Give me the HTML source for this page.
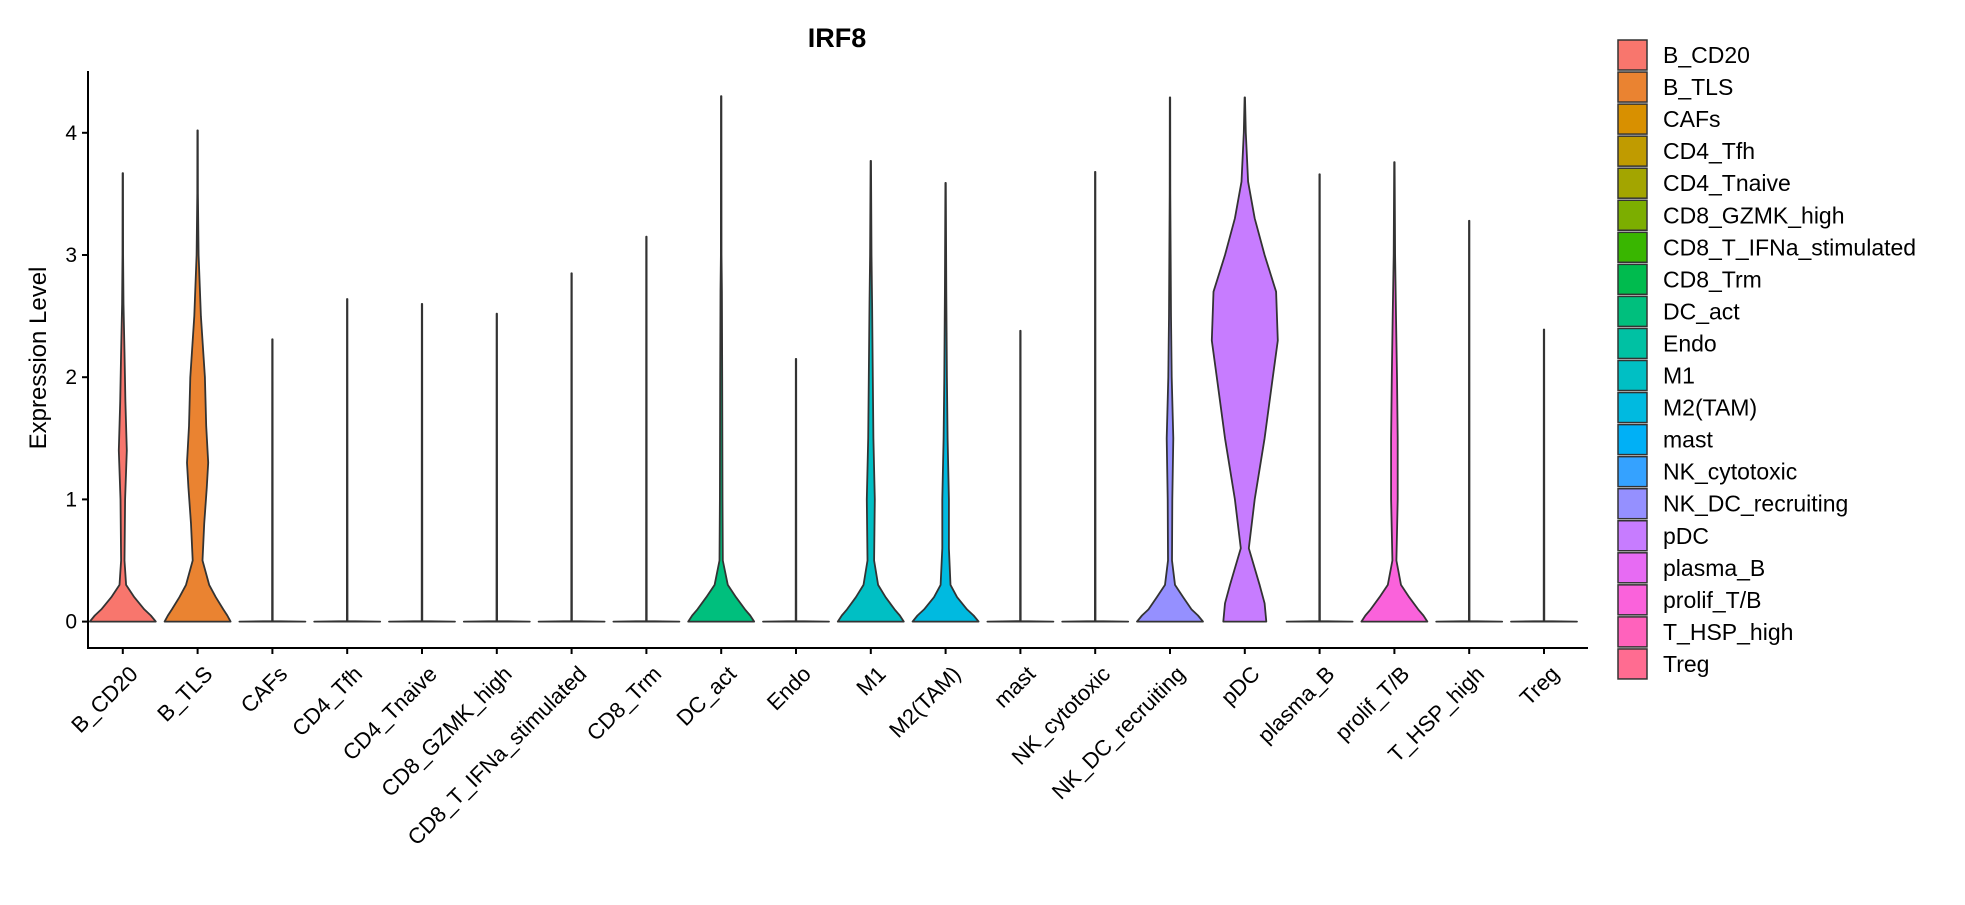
<!DOCTYPE html>
<html><head><meta charset="utf-8"><style>
html,body{margin:0;padding:0;background:#fff;}
svg text{font-family:"Liberation Sans",sans-serif;fill:#000;}
</style></head><body>
<svg id="chart" width="1965" height="900" xmlns="http://www.w3.org/2000/svg">
<text x="837" y="47" text-anchor="middle" font-size="27" font-weight="bold">IRF8</text>
<text transform="translate(46,358) rotate(-90)" text-anchor="middle" font-size="24">Expression Level</text>
<g id="plot"></g>
<g id="legend"></g>
</svg>
<script>
const categories=["B_CD20","B_TLS","CAFs","CD4_Tfh","CD4_Tnaive","CD8_GZMK_high","CD8_T_IFNa_stimulated","CD8_Trm","DC_act","Endo","M1","M2(TAM)","mast","NK_cytotoxic","NK_DC_recruiting","pDC","plasma_B","prolif_T/B","T_HSP_high","Treg"];
const colors=["#F8766D","#EA8331","#D89000","#C09B00","#A3A500","#7CAE00","#39B600","#00BB4E","#00BF7D","#00C1A3","#00BFC4","#00BAE0","#00B0F6","#35A2FF","#9590FF","#C77CFF","#E76BF3","#FA62DB","#FF62BC","#FF6C91"];
const maxValues=[3.67,4.02,2.31,2.64,2.6,2.52,2.85,3.15,4.3,2.15,3.77,3.59,2.38,3.68,4.29,4.29,3.66,3.76,3.28,2.39];
// density profiles: [expression, relative half-width]
const profileB_CD20=[[0,1],[0.05,0.85],[0.1,0.65],[0.2,0.35],[0.3,0.1],[0.5,0.05],[1,0.07],[1.4,0.12],[1.8,0.08],[2.2,0.05],[2.6,0.02],[3,0.01]];
const profileB_TLS=[[0,1],[0.05,0.9],[0.1,0.78],[0.2,0.55],[0.3,0.35],[0.5,0.15],[0.8,0.2],[1.1,0.28],[1.3,0.32],[1.6,0.26],[2,0.22],[2.5,0.1],[3,0.03],[3.5,0.01]];
const profileDC_act=[[0,1],[0.05,0.88],[0.1,0.72],[0.2,0.45],[0.3,0.2],[0.5,0.05],[1,0.04],[2,0.03],[2.7,0.02],[3,0.01]];
const profileM1=[[0,1],[0.05,0.88],[0.1,0.72],[0.2,0.45],[0.3,0.22],[0.5,0.1],[1,0.12],[1.5,0.08],[2,0.06],[2.6,0.04],[3,0.02]];
const profileM2=[[0,1],[0.05,0.85],[0.1,0.65],[0.2,0.35],[0.3,0.15],[0.6,0.1],[1,0.1],[1.5,0.06],[2,0.04],[2.7,0.02]];
const profileNKDC=[[0,1],[0.05,0.85],[0.1,0.65],[0.2,0.4],[0.3,0.15],[0.5,0.06],[1,0.07],[1.5,0.1],[2,0.05],[2.5,0.03],[3.5,0.01]];
const profilePDC=[[0,0.65],[0.15,0.6],[0.3,0.45],[0.6,0.12],[1,0.3],[1.5,0.6],[2,0.85],[2.3,1],[2.7,0.95],[3,0.6],[3.3,0.3],[3.6,0.1],[4,0.03]];
const profileProlif=[[0,1],[0.05,0.88],[0.1,0.72],[0.2,0.45],[0.3,0.2],[0.5,0.06],[1,0.1],[1.5,0.1],[2,0.08],[2.5,0.05],[3,0.02]];
const profileFlat=[[0,1],[0.004,0.01]];
const profiles={B_CD20:profileB_CD20,B_TLS:profileB_TLS,DC_act:profileDC_act,M1:profileM1,"M2(TAM)":profileM2,NK_DC_recruiting:profileNKDC,pDC:profilePDC,"prolif_T/B":profileProlif};
const yTicks=[0,1,2,3,4];

const NS="http://www.w3.org/2000/svg";
const plot=document.getElementById('plot');
const X0=122.8, DX=74.8, HALF=33;
const xPos=i=>X0+i*DX;
const yPos=v=>621.6-v*122.2;
function mk(tag,attrs,parent){const e=document.createElementNS(NS,tag);for(const k in attrs)e.setAttribute(k,attrs[k]);parent.appendChild(e);return e;}

const ya=mk('line',{x1:88,y1:71,x2:88,y2:649,stroke:'#000','stroke-width':2},plot);


const xa=mk('line',{x1:87,y1:648,x2:1588,y2:648,stroke:'#000','stroke-width':2},plot);


yTicks.forEach(t=>{
  const y=yPos(t);
  mk('line',{x1:82,y1:y,x2:88,y2:y,stroke:'#000','stroke-width':2},plot);
  const tx=mk('text',{x:77,y:y+7,'text-anchor':'end','font-size':21},plot);
  tx.textContent=t;
  
  
});
categories.forEach((c,i)=>{
  const cx=xPos(i);
  let prof=(profiles[c]||profileFlat).slice();
  const mx=maxValues[i];
  prof=prof.filter(p=>p[0]<mx);
  prof.push([mx,0.005]);
  const right=prof.map(p=>[cx+p[1]*HALF,yPos(p[0])]);
  const left=prof.slice().reverse().map(p=>[cx-p[1]*HALF,yPos(p[0])]);
  const pts=right.concat(left).map(p=>p[0].toFixed(1)+','+p[1].toFixed(1)).join(' ');
  const v=mk('polygon',{points:pts,fill:colors[i],stroke:'#333','stroke-width':1.8,'stroke-linejoin':'round'},plot);
  
  
  mk('line',{x1:cx,y1:648,x2:cx,y2:654,stroke:'#000','stroke-width':2},plot);
  const tl=mk('text',{transform:`translate(${cx+5},${664}) rotate(-45)`,'text-anchor':'end','font-size':22,'dominant-baseline':'hanging'},plot);
  tl.textContent=c;
  
  
});
const lg=document.getElementById('legend');
categories.forEach((c,i)=>{
  const y=55+i*32.05;
  const r=mk('rect',{x:1618,y:y-15,width:29,height:30,fill:colors[i],stroke:'#333','stroke-width':1.5},lg);
  
  
  const t=mk('text',{x:1663,y:y+8,'font-size':23},lg);
  t.textContent=c;
  
  
});
</script>
</body></html>
